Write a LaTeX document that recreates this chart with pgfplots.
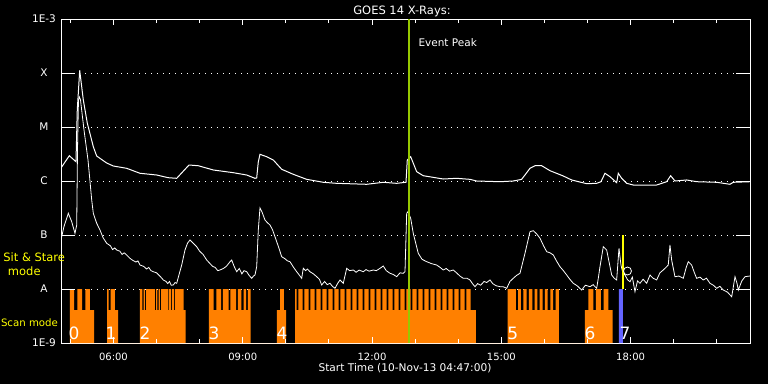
\documentclass[border=0pt]{standalone}
\usepackage{fontspec}
\setmainfont{DejaVu Sans}
\usepackage{pgfplots}
\pgfplotsset{compat=1.18}
\definecolor{scanorange}{RGB}{255,128,0}
\definecolor{peakgreen}{RGB}{150,200,0}
\definecolor{modeblue}{RGB}{100,100,255}
\definecolor{ssyellow}{RGB}{255,255,0}
\begin{document}
\begin{tikzpicture}[x=1pt,y=1pt]
\fill[black] (0,0) rectangle (768,384);
\useasboundingbox (0,0) rectangle (768,384);
\begin{axis}[
  at={(61pt,41pt)}, anchor=south west,
  width=689pt, height=324pt, scale only axis,
  xmin=4.7833, xmax=20.77, ymin=-9, ymax=-3,
  axis line style={white, line width=1pt},
  ytick={-9,-8,-7,-6,-5,-4,-3}, yticklabels={1E-9,A,B,C,M,X,1E-3},
  xtick={6,9,12,15,18}, xticklabels={06:00,09:00,12:00,15:00,18:00},
  major tick length=0pt,
  ytick pos=left, xtick pos=bottom,
  ymajorgrids,
  grid style={white, line width=1pt, dash pattern=on 1pt off 5pt},
  yticklabel style={text=white, font=\fontsize{10.5}{12}\selectfont, anchor=center, xshift=-17pt},
  xticklabel style={text=white, font=\fontsize{10}{12}\selectfont, yshift=-7pt},
  unbounded coords=jump,
]
% scan mode blocks
\addplot[const plot, fill=scanorange, draw=none] coordinates {
(4.992,-9) (4.992,-8) (5.085,-8.389) (5.162,-8) (5.271,-8.389) (5.347,-8) (5.456,-8.389) (5.549,-9)
(5.851,-8) (5.890,-8.389) (5.936,-8) (6.036,-8.389) (6.106,-9)
(6.616,-8) (6.674,-8.389) (6.698,-8) (6.732,-8.389) (6.756,-8) (6.964,-8.389) (6.992,-8) (7.022,-8.389) (7.046,-8) (7.080,-8.389) (7.104,-8) (7.266,-8.389) (7.289,-8) (7.336,-8.389) (7.359,-8) (7.405,-8.389) (7.428,-8) (7.626,-8.389) (7.677,-9)
(8.217,-8) (8.322,-8.389) (8.391,-8) (8.496,-8.389) (8.542,-8) (8.670,-8.389) (8.716,-8) (8.844,-8.389) (8.890,-8) (8.971,-8.389) (9.018,-8) (9.076,-8.389) (9.122,-8) (9.185,-9)
(9.795,-8.389) (9.865,-8) (9.957,-8.389) (10.004,-9)
(10.213,-8)
(10.252,-8.389) (10.291,-8) (10.391,-8.389) (10.430,-8) (10.530,-8.389) (10.569,-8) (10.670,-8.389) (10.709,-8)
(10.809,-8.389) (10.848,-8) (10.948,-8.389) (10.987,-8) (11.087,-8.389) (11.126,-8) (11.226,-8.389) (11.265,-8)
(11.366,-8.389) (11.405,-8) (11.505,-8.389) (11.544,-8) (11.644,-8.389) (11.683,-8) (11.783,-8.389) (11.822,-8)
(11.922,-8.389) (11.961,-8) (12.062,-8.389) (12.101,-8) (12.201,-8.389) (12.240,-8) (12.340,-8.389) (12.379,-8)
(12.479,-8.389) (12.518,-8) (12.618,-8.389) (12.657,-8) (12.758,-8.389) (12.797,-8) (12.897,-8.389) (12.936,-8)
(13.036,-8.389) (13.075,-8) (13.175,-8.389) (13.214,-8) (13.314,-8.389) (13.353,-8) (13.454,-8.389) (13.493,-8)
(13.593,-8.389) (13.632,-8) (13.732,-8.389) (13.771,-8) (13.871,-8.389) (13.910,-8) (14.010,-8.389) (14.049,-8)
(14.150,-8.389) (14.189,-8) (14.289,-8.389) (14.412,-9)
(15.148,-8) (15.340,-8.389) (15.387,-8) (15.456,-8.389) (15.510,-8) (15.589,-8.389) (15.642,-8) (15.718,-8.389) (15.774,-8) (15.834,-8.389) (15.890,-8) (15.960,-8.389) (16.013,-8) (16.076,-8.389) (16.136,-8) (16.199,-8.389) (16.261,-8) (16.338,-9)
(16.941,-8.389) (17.018,-8) (17.134,-8.389) (17.196,-8) (17.312,-8.389) (17.375,-8) (17.482,-8.389) (17.584,-9)
};
% sit & stare block (mode 7)
\addplot[const plot, fill=modeblue, draw=none] coordinates {(17.730,-9) (17.730,-8) (17.823,-9)};
% axis tick marks (inside), y ticks 14px, x major 6px, x minor 4px
\addplot[white, line width=1pt] coordinates {
(4.7833,-8) (5.108,-8) (nan,nan) (4.7833,-7) (5.108,-7) (nan,nan) (4.7833,-6) (5.108,-6) (nan,nan)
(4.7833,-5) (5.108,-5) (nan,nan) (4.7833,-4) (5.108,-4) (nan,nan)
(20.445,-8) (20.77,-8) (nan,nan) (20.445,-7) (20.77,-7) (nan,nan) (20.445,-6) (20.77,-6) (nan,nan)
(20.445,-5) (20.77,-5) (nan,nan) (20.445,-4) (20.77,-4) (nan,nan)
(6,-9) (6,-8.889) (nan,nan) (9,-9) (9,-8.889) (nan,nan) (12,-9) (12,-8.889) (nan,nan) (15,-9) (15,-8.889) (nan,nan) (18,-9) (18,-8.889) (nan,nan)
(6,-3) (6,-3.111) (nan,nan) (9,-3) (9,-3.111) (nan,nan) (12,-3) (12,-3.111) (nan,nan) (15,-3) (15,-3.111) (nan,nan) (18,-3) (18,-3.111) (nan,nan)
(5,-9) (5,-8.926) (nan,nan) (7,-9) (7,-8.926) (nan,nan) (8,-9) (8,-8.926) (nan,nan) (10,-9) (10,-8.926) (nan,nan)
(11,-9) (11,-8.926) (nan,nan) (13,-9) (13,-8.926) (nan,nan) (14,-9) (14,-8.926) (nan,nan) (16,-9) (16,-8.926) (nan,nan)
(17,-9) (17,-8.926) (nan,nan) (19,-9) (19,-8.926) (nan,nan) (20,-9) (20,-8.926) (nan,nan)
(5,-3) (5,-3.074) (nan,nan) (7,-3) (7,-3.074) (nan,nan) (8,-3) (8,-3.074) (nan,nan) (10,-3) (10,-3.074) (nan,nan)
(11,-3) (11,-3.074) (nan,nan) (13,-3) (13,-3.074) (nan,nan) (14,-3) (14,-3.074) (nan,nan) (16,-3) (16,-3.074) (nan,nan)
(17,-3) (17,-3.074) (nan,nan) (19,-3) (19,-3.074) (nan,nan) (20,-3) (20,-3.074)
};
% long channel 1-8 A
\addplot[white, line width=1pt] coordinates {
(4.783,-5.759) (4.976,-5.532) (5.131,-5.643) (5.161,-4.685) (5.217,-3.950) (5.301,-4.500) (5.393,-4.926)
(5.533,-5.365) (5.611,-5.537) (5.843,-5.667) (5.997,-5.722) (6.307,-5.765) (6.616,-5.857) (7.004,-5.889)
(7.273,-5.939) (7.468,-5.950) (7.753,-5.704) (7.969,-5.717) (8.317,-5.796) (8.781,-5.846) (9.092,-5.889)
(9.284,-5.950) (9.324,-5.944) (9.361,-5.648) (9.400,-5.506) (9.556,-5.550) (9.709,-5.611) (9.904,-5.783)
(10.173,-5.876) (10.484,-5.969) (10.869,-6.024) (11.180,-6.043) (11.876,-6.061) (12.261,-6.024) (12.572,-6.043)
(12.788,-6.024) (12.818,-5.611) (12.897,-5.550) (13.036,-5.828) (13.189,-5.902) (13.653,-5.963) (13.964,-5.950)
(14.273,-5.969) (14.428,-6.000) (14.969,-6.013) (15.277,-6.000) (15.472,-5.969) (15.665,-5.765) (15.781,-5.717)
(15.936,-5.717) (16.129,-5.809) (16.437,-5.907) (16.632,-5.981) (16.980,-6.050) (17.212,-6.043) (17.312,-6.013)
(17.405,-5.857) (17.521,-5.920) (17.676,-6.031) (17.714,-5.857) (17.792,-5.950) (17.908,-6.043) (18.061,-6.074)
(18.604,-6.074) (18.836,-6.013) (18.929,-5.902) (19.029,-6.000) (19.300,-5.981) (19.533,-6.013) (19.997,-6.024)
(20.305,-6.061) (20.382,-6.024) (20.770,-6.013)
};
% short channel 0.5-4 A
\addplot[white, line width=0.8pt] coordinates {
(4.783,-7.093) (4.85,-6.85) (4.953,-6.598) (5.03,-6.75) (5.108,-6.969) (5.148,-6.815) (5.166,-5.426) (5.189,-4.500)
(5.212,-4.444) (5.236,-4.500) (5.317,-5.056) (5.410,-5.611) (5.496,-6.352) (5.533,-6.598) (5.61,-6.78) (5.688,-6.907)
(5.76,-7.05) (5.844,-7.154) (5.93,-7.20) (5.98,-7.27) (6.03,-7.24) (6.076,-7.278) (6.15,-7.30) (6.20,-7.36) (6.25,-7.33)
(6.307,-7.370) (6.38,-7.43) (6.45,-7.47) (6.52,-7.50) (6.57,-7.48) (6.616,-7.556) (6.70,-7.58) (6.77,-7.63) (6.82,-7.60)
(6.87,-7.66) (6.925,-7.680) (7.00,-7.70) (7.05,-7.74) (7.10,-7.78) (7.157,-7.833) (7.22,-7.86) (7.26,-7.90) (7.30,-7.86)
(7.34,-7.93) (7.389,-7.926) (7.43,-7.88) (7.468,-7.894) (7.52,-7.74) (7.584,-7.556) (7.660,-7.278) (7.72,-7.15)
(7.776,-7.093) (7.85,-7.15) (7.932,-7.217) (8.00,-7.30) (8.08,-7.36) (8.164,-7.463) (8.23,-7.52) (8.30,-7.58) (8.36,-7.60)
(8.42,-7.66) (8.472,-7.648) (8.55,-7.62) (8.62,-7.58) (8.70,-7.50) (8.744,-7.463) (8.80,-7.58) (8.860,-7.680) (8.92,-7.62)
(8.98,-7.72) (9.03,-7.66) (9.092,-7.680) (9.15,-7.75) (9.208,-7.802) (9.25,-7.76) (9.284,-7.741) (9.324,-7.587)
(9.361,-6.907) (9.400,-6.500) (9.45,-6.58) (9.516,-6.722) (9.57,-6.77) (9.632,-6.815) (9.69,-6.90) (9.748,-7.031)
(9.83,-7.22) (9.904,-7.402) (9.98,-7.44) (10.04,-7.48) (10.096,-7.494) (10.18,-7.60) (10.252,-7.680) (10.31,-7.74)
(10.368,-7.802) (10.405,-7.617) (10.46,-7.66) (10.50,-7.63) (10.561,-7.680) (10.64,-7.72) (10.716,-7.772) (10.78,-7.82)
(10.832,-7.926) (10.90,-7.86) (10.96,-7.92) (11.025,-7.894) (11.08,-7.95) (11.141,-7.987) (11.20,-7.90) (11.257,-7.833)
(11.333,-7.894) (11.412,-7.617) (11.48,-7.66) (11.566,-7.648) (11.63,-7.69) (11.70,-7.65) (11.798,-7.680) (11.86,-7.64)
(11.93,-7.67) (12.029,-7.648) (12.10,-7.66) (12.18,-7.62) (12.261,-7.574) (12.33,-7.66) (12.417,-7.709) (12.49,-7.73)
(12.572,-7.772) (12.65,-7.70) (12.72,-7.71) (12.765,-7.680) (12.804,-6.598) (12.834,-6.569) (12.897,-6.691)
(12.957,-6.969) (13.073,-7.339) (13.16,-7.45) (13.268,-7.494) (13.38,-7.53) (13.500,-7.556) (13.58,-7.60) (13.653,-7.648)
(13.72,-7.62) (13.80,-7.67) (13.885,-7.648) (13.96,-7.70) (14.04,-7.76) (14.117,-7.802) (14.20,-7.80) (14.273,-7.833)
(14.33,-7.90) (14.389,-7.957) (14.45,-7.90) (14.52,-7.93) (14.60,-7.86) (14.66,-7.88) (14.737,-7.833) (14.80,-7.90)
(14.88,-7.94) (14.969,-7.957) (15.05,-7.96) (15.125,-7.987) (15.20,-7.86) (15.277,-7.802) (15.35,-7.75) (15.433,-7.709)
(15.549,-7.339) (15.665,-6.939) (15.742,-6.920) (15.82,-6.98) (15.898,-7.061) (15.98,-7.20) (16.053,-7.309) (16.13,-7.33)
(16.206,-7.370) (16.28,-7.48) (16.361,-7.587) (16.44,-7.66) (16.517,-7.741) (16.59,-7.82) (16.670,-7.894) (16.76,-7.94)
(16.864,-8.019) (16.95,-7.93) (17.057,-7.957) (17.13,-7.92) (17.212,-7.987) (17.25,-7.80) (17.289,-7.587) (17.366,-7.217)
(17.444,-7.278) (17.50,-7.50) (17.560,-7.741) (17.62,-7.80) (17.676,-7.833) (17.730,-7.246) (17.776,-7.556) (17.82,-7.70)
(17.869,-7.741) (17.93,-7.83) (17.985,-7.865) (18.04,-7.78) (18.101,-8.050) (18.16,-7.85) (18.217,-7.894) (18.29,-7.82)
(18.372,-7.894) (18.449,-7.741) (18.52,-7.80) (18.604,-7.833) (18.68,-7.70) (18.757,-7.648) (18.82,-7.60) (18.873,-7.556)
(18.913,-7.185) (18.952,-7.463) (19.029,-7.772) (19.12,-7.76) (19.222,-7.802) (19.29,-7.60) (19.338,-7.494) (19.416,-7.556)
(19.48,-7.70) (19.532,-7.802) (19.61,-7.78) (19.685,-7.833) (19.76,-7.80) (19.841,-7.894) (19.92,-7.93) (19.997,-7.987)
(20.07,-7.95) (20.150,-8.019) (20.25,-8.06) (20.345,-8.143) (20.422,-7.772) (20.47,-7.90) (20.499,-8.019) (20.58,-7.85)
(20.654,-7.772) (20.770,-7.759)
};
% event peak and sit & stare markers
\addplot[peakgreen, line width=2pt] coordinates {(12.858,-9) (12.858,-3)};
\addplot[ssyellow, line width=2pt] coordinates {(17.823,-7) (17.823,-8)};
\addplot[only marks, mark=o, white, mark size=4pt, line width=0.8pt] coordinates {(17.927,-7.667)};
% mode numbers
\foreach \xx/\lab in {5.085/0, 5.943/1, 6.732/2, 8.333/3, 9.911/4, 15.264/5, 17.057/6, 17.869/7}{
  \edef\temp{\noexpand\node[text=white, font=\noexpand\fontsize{17}{17}\noexpand\selectfont, anchor=base, inner sep=0pt] at (axis cs:\xx,-8.932) {\lab};}
  \temp
}
\end{axis}
\node[text=white, font=\fontsize{11.5}{13}\selectfont, anchor=base] at (402,370) {GOES 14 X-Rays:};
\node[text=white, font=\fontsize{10.5}{12}\selectfont, anchor=base west, inner sep=0pt] at (418.3,337.3) {Event Peak};
\node[text=white, font=\fontsize{10.6}{12}\selectfont, anchor=base] at (405,12.5) {Start Time (10-Nov-13 04:47:00)};
\node[text=ssyellow, font=\fontsize{11.5}{13}\selectfont, anchor=base, inner sep=0pt] at (34.2,122.3) {Sit \& Stare};
\node[text=ssyellow, font=\fontsize{11.5}{13}\selectfont, anchor=base, inner sep=0pt] at (24.3,109) {mode};
\node[text=ssyellow, font=\fontsize{10.2}{12}\selectfont, anchor=base, inner sep=0pt] at (29.5,57.3) {Scan mode};
\end{tikzpicture}
\end{document}
